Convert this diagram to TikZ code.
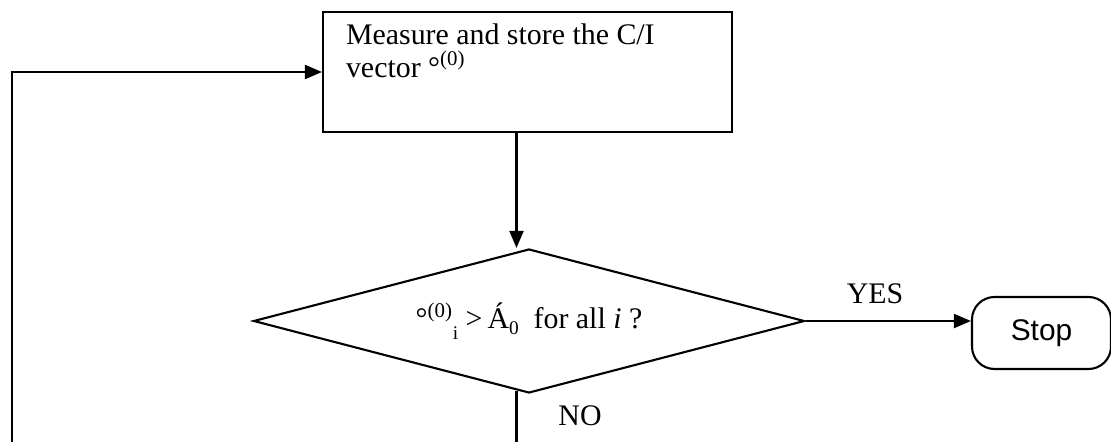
\documentclass[tikz,border=0pt]{standalone}
\usepackage{fontspec}
\setmainfont{Liberation Serif}
\newfontfamily\stopfont{Liberation Sans}
\usetikzlibrary{positioning, arrows.meta, shapes.geometric, calc}

\newcommand{\subsz}{\fontsize{11}{11}\selectfont}

\begin{document}
\begin{tikzpicture}[>={Triangle[length=3.4mm, width=2.8mm]}, line width=1.2pt,
    font=\fontsize{17}{17.6}\selectfont,
    procbox/.style={draw, rectangle, minimum width=8.18cm, minimum height=2.4cm, inner sep=0pt},
    decision/.style={draw, diamond, aspect=3.83, minimum width=11.02cm, minimum height=2.88cm, inner sep=0pt},
    terminal/.style={draw, rectangle, rounded corners=4.5mm, minimum width=2.78cm,
      minimum height=1.44cm, inner sep=0pt, font=\stopfont\fontsize{17}{17.6}\selectfont}]
    \useasboundingbox (0,0) rectangle (22.22,8.82);
    \clip (0,0) rectangle (22.22,8.82);
    \node[procbox] (meas) at (10.55,7.38) {};
    \node[anchor=base west, align=left, inner sep=0pt] (meastxt) at (6.9,7.28)
      {Measure and store the C/I\\[0.9pt]vector °\textsuperscript{(0)}};
    \node[decision] (dec) at (10.58,2.4)
      {°\textsuperscript{(0)}\raisebox{-0.8ex}{\subsz i}\ {>}\,Á\raisebox{-0.45ex}{\subsz 0}\ \ for all \textit{i} ?};
    \node[terminal] (stop) at (20.83,2.16) {Stop};
    \coordinate (stem) at (10.33,0);
    \coordinate (loopx) at (0.24,-0.6);
    \draw[->] (meas.south -| stem) -- (dec.north -| stem);
    \draw[->] (dec.east) -- node[above=2mm, pos=0.42]{YES} (dec.east -| stop.west);
    \draw[->] ($(dec.south -| stem)+(0,0.07)$) -- (stem |- loopx) -- (loopx) |- (meas.west);
    \node (nolbl) at (11.6,0.5) {NO};
  \end{tikzpicture}
\end{document}
